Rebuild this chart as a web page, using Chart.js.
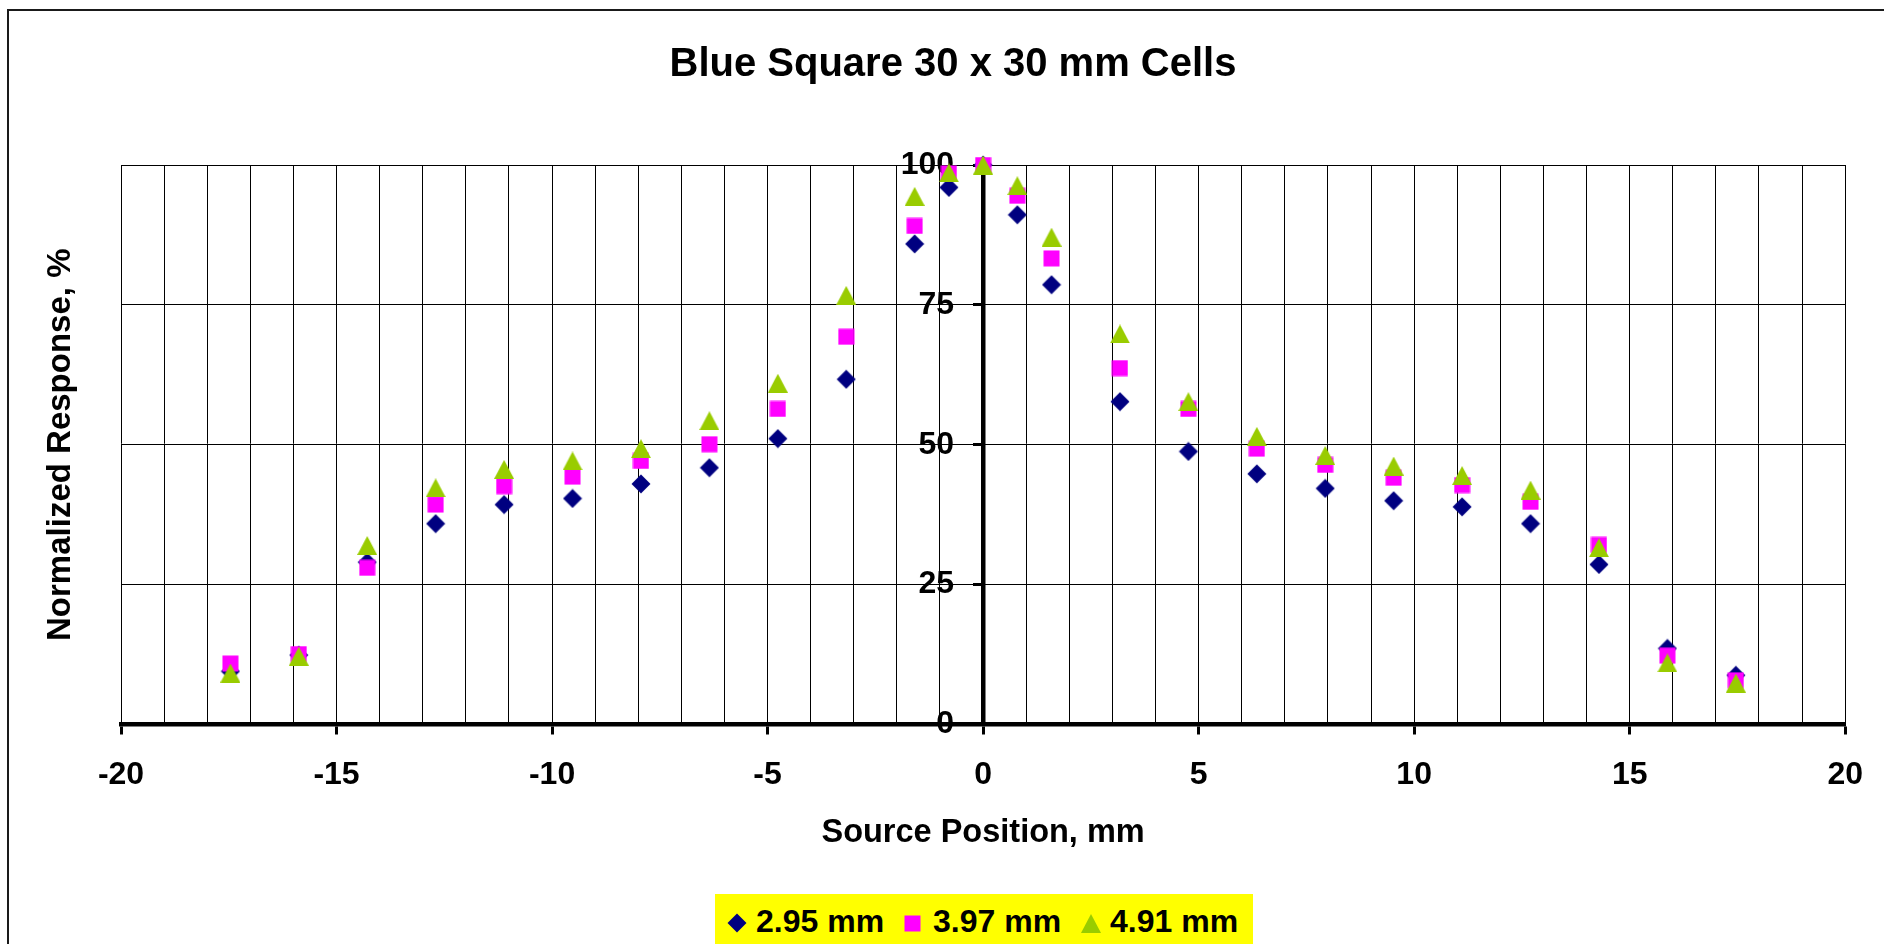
<!DOCTYPE html>
<html><head><meta charset="utf-8">
<script src="https://cdn.jsdelivr.net/npm/chart.js@4"></script>
<style>
html,body{margin:0;padding:0;background:#fff;overflow:hidden;width:1884px;height:944px;}
#wrap{position:relative;width:1884px;height:944px;overflow:hidden;}
#frame{position:absolute;left:7px;top:9px;width:2000px;height:1000px;border-left:2px solid #1a1a1a;border-top:2px solid #1a1a1a;box-sizing:border-box;}
#c{position:absolute;left:0;top:0;}
#legend{position:absolute;left:715px;top:894px;width:538px;height:60px;background:#ffff00;}
.lt{position:absolute;font:bold 32px "Liberation Sans",Arial,sans-serif;color:#000;line-height:32px;white-space:nowrap;}
.lm{position:absolute;}
</style></head>
<body><div id="wrap"><div id="frame"></div><canvas id="c" width="1884" height="944"></canvas><div id="legend"></div></div>
<script>
// ---- data ----
const chartTitle = 'Blue Square 30 x 30 mm Cells';
const xAxisTitle = 'Source Position, mm';
const yAxisTitle = 'Normalized Response, %';
const seriesNames = ['2.95 mm', '3.97 mm', '4.91 mm'];
const positions = [-17.4625, -15.875, -14.2875, -12.7, -11.1125, -9.525, -7.9375, -6.35, -4.7625, -3.175, -1.5875, -0.79375, 0,
                   0.79375, 1.5875, 3.175, 4.7625, 6.35, 7.9375, 9.525, 11.1125, 12.7, 14.2875, 15.875, 17.4625];
const series295 = [9.5, 12.4, 29.0, 35.9, 39.3, 40.4, 43.0, 45.9, 51.1, 61.7, 85.9, 96.0, 100,
                   91.1, 78.6, 57.7, 48.8, 44.8, 42.2, 40.0, 38.9, 35.9, 28.6, 13.6, 8.8];
const series397 = [10.9, 12.6, 28.0, 39.3, 42.6, 44.3, 47.1, 50.1, 56.4, 69.3, 89.1, 98.5, 100,
                   94.5, 83.3, 63.7, 56.4, 49.3, 46.4, 44.1, 42.8, 39.8, 32.1, 12.3, 7.9];
const series491 = [9.2, 12.2, 32.0, 42.3, 45.6, 47.1, 49.3, 54.3, 61.0, 76.7, 94.4, 98.6, 100,
                   96.3, 87.1, 69.8, 57.7, 51.5, 48.1, 46.2, 44.5, 41.9, 31.6, 11.0, 7.4];
const xMin = -20, xMax = 20, xGridStep = 1, xLabelStep = 5;
const yMin = 0, yMax = 100, yStep = 25;
const seriesColors = ['#000080', '#FF00FF', '#99CC00'];
const seriesShapes = ['diamond', 'square', 'triangle'];

const FONT = '"Liberation Sans", Arial, sans-serif';

function makeMarker(kind, color) {
  const c = document.createElement('canvas');
  let w, h;
  if (kind === 'diamond') { w = 20; h = 20; }
  else if (kind === 'square') { w = 17; h = 17; }
  else { w = 20; h = 19; }
  c.width = w; c.height = h;
  const g = c.getContext('2d');
  g.fillStyle = color; g.beginPath();
  if (kind === 'diamond') { g.moveTo(w/2, 0.5); g.lineTo(w-0.5, h/2); g.lineTo(w/2, h-0.5); g.lineTo(0.5, h/2); }
  else if (kind === 'square') { g.rect(0.5, 0.5, w-1, h-1); }
  else { g.moveTo(w/2, 0); g.lineTo(w, h); g.lineTo(0, h); }
  g.closePath(); g.fill();
  return c;
}

const allSeries = [series295, series397, series491];
const datasets = allSeries.map((ys, k) => ({
  label: seriesNames[k],
  data: positions.map((x, i) => ({ x: x, y: ys[i] })),
  pointStyle: makeMarker(seriesShapes[k], seriesColors[k]),
  pointRadius: 10,
  backgroundColor: seriesColors[k],
  borderColor: seriesColors[k],
  showLine: false,
  clip: false,
  order: 3 - k
}));

// shift the y-axis tick labels to the left of the y axis (which crosses at x = 0)
const yLabelShift = {
  id: 'yLabelShift',
  beforeDraw(chart) {
    const ys = chart.scales.y, xs = chart.scales.x;
    const items = ys.getLabelItems();
    if (items && !items._shifted) {
      const target = xs.getPixelForValue(0) - 29;
      items.forEach(it => {
        if (it.options && it.options.translation) { it.options.translation[0] = target; it.options.textAlign = 'right'; }
      });
      items._shifted = true;
    }
  }
};

const textPlugin = {
  id: 'texts',
  afterDraw(chart) {
    const g = chart.ctx, a = chart.chartArea;
    g.save();
    g.fillStyle = '#000'; g.textAlign = 'center'; g.textBaseline = 'middle';
    g.font = 'bold 40px ' + FONT;
    g.fillText(chartTitle, 953, 65);
    g.font = 'bold 32.5px ' + FONT;
    g.fillText(xAxisTitle, (a.left + a.right) / 2, 833);
    g.font = 'bold 33px ' + FONT;
    g.translate(61, (a.top + a.bottom) / 2);
    g.rotate(-Math.PI / 2);
    g.fillText(yAxisTitle, 0, 0);
    g.restore();
  }
};

new Chart(document.getElementById('c'), {
  type: 'scatter',
  data: { datasets },
  options: {
    responsive: false, animation: false,
    layout: { padding: { left: 121, right: 37, top: 165, bottom: 139.5 } },
    plugins: { legend: { display: false }, title: { display: false }, tooltip: { enabled: false } },
    scales: {
      x: {
        type: 'linear', min: xMin, max: xMax,
        afterFit(s) { s.height = 80; },
        ticks: {
          stepSize: xGridStep, autoSkip: false, maxRotation: 0, minRotation: 0, padding: 21, color: '#000',
          font: { family: FONT, size: 32, weight: 'bold' },
          callback: (v) => (Math.abs(v % xLabelStep) < 1e-9) ? String(v) : ''
        },
        grid: {
          color: '#000', lineWidth: 1, tickLength: 10, tickWidth: 3,
          tickColor: (c) => (c.tick && Math.abs(c.tick.value % xLabelStep) < 1e-9) ? '#000' : 'rgba(0,0,0,0)'
        },
        border: { color: '#000', width: 4.5 }
      },
      y: {
        type: 'linear', min: yMin, max: yMax, position: { x: 0 },
        ticks: {
          stepSize: yStep, padding: 21, color: '#000',
          font: { family: FONT, size: 32, weight: 'bold' }
        },
        grid: { color: '#000', lineWidth: 1, tickLength: 8, tickWidth: 3, tickColor: '#000' },
        border: { color: '#000', width: 4.5 }
      }
    }
  },
  plugins: [yLabelShift, textPlugin]
});

// HTML legend
const legend = document.getElementById('legend');
const markerCenters = [22, 197, 376];
const textLefts = [41, 218, 395];
seriesNames.forEach((name, k) => {
  const m = makeMarker(seriesShapes[k], seriesColors[k]);
  m.className = 'lm';
  m.style.left = (markerCenters[k] - m.width / 2) + 'px';
  m.style.top = (29 - m.height / 2) + 'px';
  legend.appendChild(m);
  const t = document.createElement('div');
  t.className = 'lt';
  t.style.left = textLefts[k] + 'px';
  t.style.top = '11px';
  t.textContent = name;
  legend.appendChild(t);
});
</script>
</body></html>
